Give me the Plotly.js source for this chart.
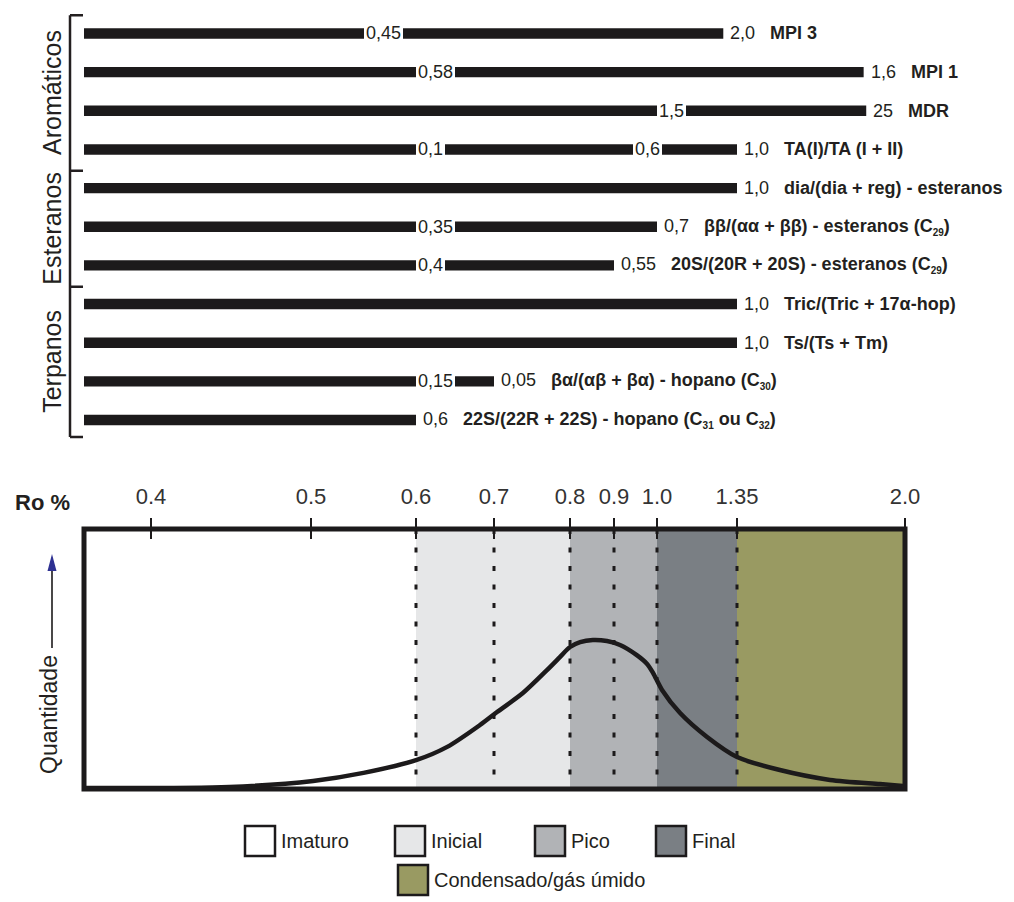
<!DOCTYPE html>
<html>
<head>
<meta charset="utf-8">
<script src="https://cdn.plot.ly/plotly-3.0.1.min.js"></script>
<style>
  html, body { margin: 0; padding: 0; background: #ffffff; }
  #chart { width: 1014px; height: 902px; }
</style>
</head>
<body>
<div id="chart"></div>
<script>
// ---- Ro % scale of the maturity window (schematic, non-linear) ----
const roTicks    = [0.4, 0.5, 0.6, 0.7, 0.8, 0.9, 1.0, 1.35, 2.0];
const roTickText = ['0.4', '0.5', '0.6', '0.7', '0.8', '0.9', '1.0', '1.35', '2.0'];
const roTickPos  = [67, 227, 332, 410, 486, 530, 573, 653, 821];   // place of each tick along the drawn scale

// ---- Geochemical maturity parameters (top panel) ----
const sub = s => '<sub><span style="font-size:10px">' + s + '</span></sub>';
const paramNames = [
  'MPI 3',
  'MPI 1',
  'MDR',
  'TA(I)/TA (I + II)',
  'dia/(dia + reg) - esteranos',
  'ββ/(αα + ββ) - esteranos (C' + sub('29') + ')',
  '20S/(20R + 20S) - esteranos (C' + sub('29') + ')',
  'Tric/(Tric + 17α-hop)',
  'Ts/(Ts + Tm)',
  'βα/(αβ + βα) - hopano (C' + sub('30') + ')',
  '22S/(22R + 22S) - hopano (C' + sub('31') + ' ou C' + sub('32') + ')'
];
const paramBreakRo     = [[0.55], [0.6], [1.0], [0.6, 0.945], [], [0.6], [0.6], [], [], [0.6], []];
const paramBreakLabels = [['0,45'], ['0,58'], ['1,5'], ['0,1', '0,6'], [], ['0,35'], ['0,4'], [], [], ['0,15'], []];
const paramEndRo       = [1.29, 1.84, 1.85, 1.35, 1.35, 1.0, 0.9, 1.35, 1.35, 0.7, 0.6];
const paramEndLabels   = ['2,0', '1,6', '25', '1,0', '1,0', '0,7', '0,55', '1,0', '1,0', '0,05', '0,6'];

const groupNames    = ['Aromáticos', 'Esteranos', 'Terpanos'];
const groupFirstRow = [0, 4, 7];
const groupLastRow  = [3, 6, 10];

// ---- Maturity stages (bottom panel) ----
const stageNames   = ['Imaturo', 'Inicial', 'Pico', 'Final', 'Condensado/gás úmido'];
const stageStartRo = [null, 0.6, 0.8, 1.0, 1.35];
const stageEndRo   = [0.6, 0.8, 1.0, 1.35, 2.0];
const stageColors  = ['#ffffff', '#e6e7e8', '#b1b3b6', '#7a7f84', '#999a62'];
const dividerRo    = [0.6, 0.7, 0.8, 0.9, 1.0, 1.35];

// ---- Hydrocarbon generation curve (Ro %, relative quantity) ----
const curveRo  = [0.359, 0.449, 0.502, 0.55, 0.601, 0.64, 0.682, 0.704, 0.738, 0.77, 0.787, 0.8, 0.823,
                  0.852, 0.884, 0.914, 0.953, 0.977, 0.991, 1.022, 1.101, 1.219, 1.35, 1.516, 1.71, 1.903, 1.992];
const curveQty = [0.004, 0.008, 0.031, 0.062, 0.112, 0.162, 0.246, 0.296, 0.369, 0.458, 0.508, 0.546, 0.565,
                  0.573, 0.569, 0.554, 0.515, 0.481, 0.446, 0.381, 0.292, 0.2, 0.123, 0.073, 0.035, 0.019, 0.012];

// Piecewise-linear placement of an Ro value on the schematic scale (null = start of scale)
function roToPos(ro) {
  if (ro === null) return 0;
  const n = roTicks.length;
  let i = 0;
  if (ro <= roTicks[0]) i = 0;
  else if (ro >= roTicks[n - 1]) i = n - 2;
  else { while (ro > roTicks[i + 1]) i++; }
  const t = (ro - roTicks[i]) / (roTicks[i + 1] - roTicks[i]);
  return Math.max(0, roTickPos[i] + t * (roTickPos[i + 1] - roTickPos[i]));
}

// ---- page geometry (paper x is measured from the plot area's left edge) ----
const W = 1014, H = 902;
const ML = 84, MR = 109;
const PW = W - ML - MR;
const px = x => (x - ML) / PW;
const py = y => 1 - y / H;
const SCALE_MAX = roTickPos[roTickPos.length - 1];
const ink = '#1c1a1b';
const txt = '#231f20';
const FONT = 'Liberation Sans, Arial, Helvetica, sans-serif';
const nb = '\u00a0';

const rows = paramNames.map((_, i) => i);

const traces = [
  {
    type: 'bar', orientation: 'h',
    y: rows,
    base: rows.map(() => roToPos(null)),
    x: paramEndRo.map(r => roToPos(r) - roToPos(null)),
    width: 0.27,
    marker: { color: ink, line: { width: 0 } },
    xaxis: 'x2', yaxis: 'y2',
    hoverinfo: 'skip', showlegend: false
  },
  {
    type: 'scatter', mode: 'lines',
    x: curveRo.map(roToPos),
    y: curveQty,
    line: { color: ink, width: 4.5, shape: 'spline', smoothing: 0.8 },
    xaxis: 'x', yaxis: 'y',
    hoverinfo: 'skip', showlegend: false
  }
];

const annotations = [];
const shapes = [];

// value labels breaking the bars, and the end labels with parameter names
paramNames.forEach((name, i) => {
  paramBreakRo[i].forEach((ro, k) => {
    annotations.push({
      xref: 'x2', yref: 'y2', x: roToPos(ro), y: i,
      xanchor: 'left', yanchor: 'middle', showarrow: false,
      text: paramBreakLabels[i][k],
      bgcolor: '#ffffff', borderpad: 2, borderwidth: 0,
      font: { family: FONT, size: 18, color: txt }
    });
  });
  annotations.push({
    xref: 'x2', yref: 'y2', x: roToPos(paramEndRo[i]), y: i,
    xanchor: 'left', yanchor: 'middle', showarrow: false, xshift: 5,
    text: paramEndLabels[i] + nb + nb + nb + '<b>' + name + '</b>',
    font: { family: FONT, size: 18, color: txt }
  });
});

// group bracket and group names
const bracketX = px(70), bracketTickX = px(83);
const groupEdges = [groupFirstRow[0] - 0.47];
for (let g = 1; g < groupNames.length; g++) groupEdges.push((groupLastRow[g - 1] + groupFirstRow[g]) / 2 + 0.05);
groupEdges.push(groupLastRow[groupLastRow.length - 1] + 0.44);
shapes.push({ type: 'line', xref: 'paper', yref: 'y2', x0: bracketX, x1: bracketX,
  y0: groupEdges[0], y1: groupEdges[groupEdges.length - 1], line: { color: txt, width: 2.5 } });
groupEdges.forEach(e => shapes.push({ type: 'line', xref: 'paper', yref: 'y2',
  x0: bracketX, x1: bracketTickX, y0: e, y1: e, line: { color: txt, width: 2.5 } }));
groupNames.forEach((g, k) => {
  annotations.push({
    xref: 'paper', yref: 'y2', x: px(52), y: (groupEdges[k] + groupEdges[k + 1]) / 2,
    xanchor: 'center', yanchor: 'middle', showarrow: false, textangle: -90,
    text: g, font: { family: FONT, size: 25, color: txt }
  });
});

// maturity stage bands
stageNames.forEach((s, i) => {
  shapes.push({ type: 'rect', xref: 'x', yref: 'y', layer: 'below',
    x0: roToPos(stageStartRo[i]), x1: roToPos(stageEndRo[i]), y0: 0, y1: 1,
    fillcolor: stageColors[i], line: { width: 0 } });
});
// dotted stage dividers
dividerRo.forEach(ro => {
  shapes.push({ type: 'line', xref: 'x', yref: 'y', layer: 'below',
    x0: roToPos(ro), x1: roToPos(ro), y0: 1, y1: 0,
    line: { color: ink, width: 3, dash: '5px,13.5px' } });
});
// frame of the window
shapes.push({ type: 'rect', xref: 'x domain', yref: 'y domain', x0: 0, x1: 1, y0: 0, y1: 1,
  line: { color: ink, width: 5 }, fillcolor: 'rgba(0,0,0,0)', layer: 'above' });

// Ro % caption and quantity axis caption with arrow
annotations.push({ xref: 'paper', yref: 'paper', x: px(42), y: py(502), xanchor: 'center', yanchor: 'middle',
  showarrow: false, text: '<b>Ro %</b>', font: { family: FONT, size: 22, color: txt } });
annotations.push({ xref: 'paper', yref: 'paper', x: px(49), y: py(715), xanchor: 'center', yanchor: 'middle',
  showarrow: false, textangle: -90, text: 'Quantidade', font: { family: FONT, size: 23, color: txt } });
shapes.push({ type: 'line', xref: 'paper', yref: 'paper', x0: px(52), x1: px(52), y0: py(648), y1: py(568),
  line: { color: ink, width: 1.6 } });
shapes.push({ type: 'path', xref: 'paper', yref: 'paper',
  path: `M ${px(52)} ${py(554)} L ${px(47.5)} ${py(571)} L ${px(56.5)} ${py(571)} Z`,
  fillcolor: '#2e3192', line: { width: 0 } });

// legend of the stages
const legendBoxX = [245, 395, 535, 656, 398];
const legendBoxY = [826, 826, 826, 826, 865];
const legendBox = 30;
stageNames.forEach((s, i) => {
  shapes.push({ type: 'rect', xref: 'paper', yref: 'paper',
    x0: px(legendBoxX[i]), x1: px(legendBoxX[i] + legendBox),
    y0: py(legendBoxY[i] + legendBox), y1: py(legendBoxY[i]),
    fillcolor: stageColors[i], line: { color: ink, width: 2.5 } });
  annotations.push({ xref: 'paper', yref: 'paper',
    x: px(legendBoxX[i] + legendBox + 4), y: py(legendBoxY[i] + legendBox / 2),
    xanchor: 'left', yanchor: 'middle', showarrow: false, text: s,
    font: { family: FONT, size: 20, color: txt } });
});

const layout = {
  width: W, height: H,
  margin: { l: ML, r: MR, t: 0, b: 0, pad: 0 },
  paper_bgcolor: '#ffffff', plot_bgcolor: 'rgba(0,0,0,0)',
  showlegend: false,
  barmode: 'overlay',
  font: { family: FONT, color: txt },
  xaxis: {
    anchor: 'y', side: 'top', range: [0, SCALE_MAX], fixedrange: true,
    tickmode: 'array', tickvals: roTickPos, ticktext: roTickText,
    ticks: 'outside', ticklen: 10, tickwidth: 2.5, tickcolor: ink,
    ticklabelstandoff: 5,
    tickfont: { family: FONT, size: 22, color: '#333333' },
    showgrid: false, zeroline: false, showline: false
  },
  xaxis3: {
    overlaying: 'x', anchor: 'y', side: 'top', range: [0, SCALE_MAX], fixedrange: true,
    tickmode: 'array', tickvals: roTickPos,
    ticks: 'inside', ticklen: 10, tickwidth: 2.5, tickcolor: ink,
    showticklabels: false, showgrid: false, zeroline: false, showline: false
  },
  yaxis: {
    domain: [1 - 789 / H, 1 - 529 / H], range: [0, 1], fixedrange: true,
    visible: false
  },
  xaxis2: {
    anchor: 'y2', range: [0, SCALE_MAX], fixedrange: true, visible: false
  },
  yaxis2: {
    anchor: 'x2', domain: [1 - 443.2 / H, 1 - 10.3 / H], range: [10.6, -0.6], fixedrange: true,
    visible: false
  },
  shapes: shapes,
  annotations: annotations
};

// the overlay axis needs a trace to be drawn
traces.push({ type: 'scatter', mode: 'none', x: [0], y: [0], xaxis: 'x3', yaxis: 'y',
  hoverinfo: 'skip', showlegend: false });

Plotly.newPlot('chart', traces, layout, { staticPlot: true, displayModeBar: false });
</script>
</body>
</html>
